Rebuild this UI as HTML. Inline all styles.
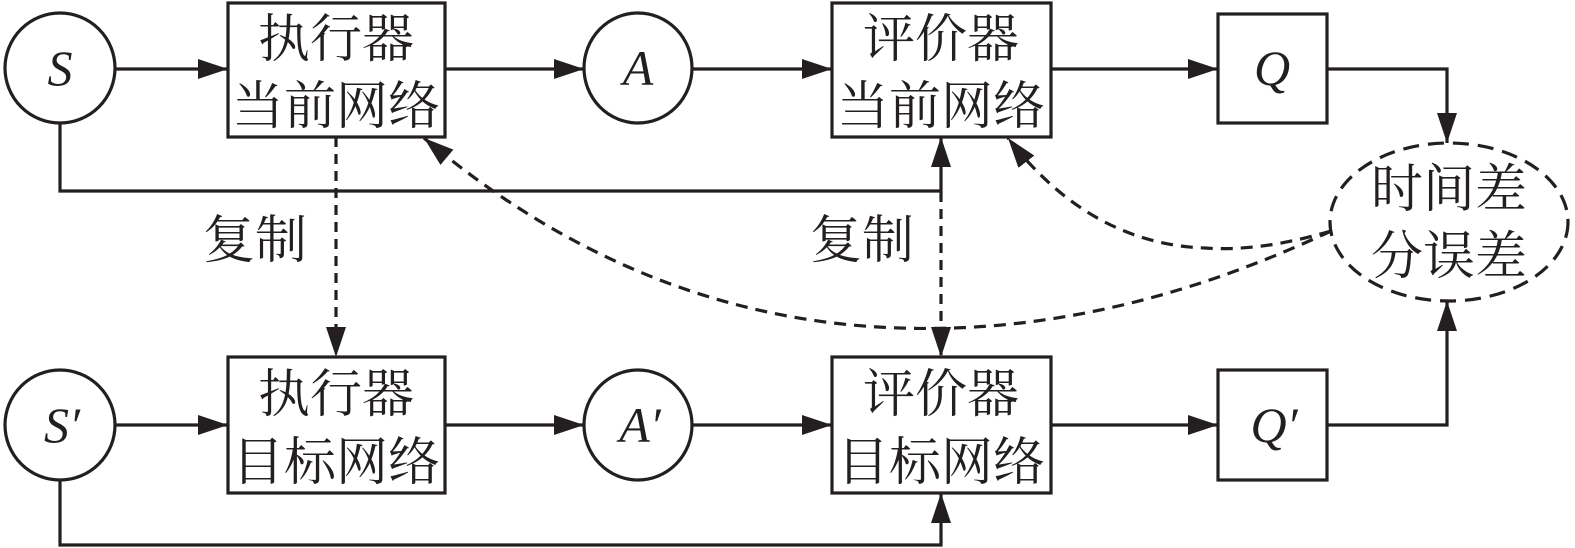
<!DOCTYPE html>
<html><head><meta charset="utf-8"><style>
html,body{margin:0;padding:0;background:#fff;}
svg{display:block}
.cn{font-family:"Liberation Serif","Noto Serif CJK SC",serif;font-size:52px;fill:#231f20;text-anchor:middle}
.it{font-family:"Liberation Serif",serif;font-style:italic;font-size:50px;fill:#231f20;text-anchor:middle}
</style></head><body>
<svg width="1575" height="548" viewBox="0 0 1575 548" xmlns="http://www.w3.org/2000/svg">
<defs>
<marker id="ar" markerWidth="30" markerHeight="20" refX="30" refY="10" orient="auto" markerUnits="userSpaceOnUse">
<path d="M0,0 L30,10 L0,20 Z" fill="#231f20"/>
</marker>
</defs>
<g stroke="#231f20" stroke-width="3.2" fill="none">
<!-- nodes top -->
<ellipse cx="60" cy="68" rx="55" ry="55"/>
<rect x="228" y="3" width="217" height="134"/>
<ellipse cx="638" cy="68" rx="54" ry="55"/>
<rect x="832" y="3" width="219" height="134"/>
<rect x="1218" y="14" width="109" height="109"/>
<ellipse cx="1449" cy="222" rx="119" ry="79" stroke-dasharray="16,9"/>
<!-- nodes bottom -->
<ellipse cx="60" cy="425" rx="55" ry="55"/>
<rect x="228" y="357" width="217" height="136"/>
<ellipse cx="638" cy="425" rx="54" ry="55"/>
<rect x="832" y="357" width="219" height="136"/>
<rect x="1218" y="370" width="109" height="110"/>
<!-- horizontal arrows top -->
<line x1="115" y1="69" x2="228" y2="69" marker-end="url(#ar)"/>
<line x1="445" y1="69" x2="584" y2="69" marker-end="url(#ar)"/>
<line x1="692" y1="69" x2="832" y2="69" marker-end="url(#ar)"/>
<line x1="1051" y1="69" x2="1218" y2="69" marker-end="url(#ar)"/>
<polyline points="1327,69 1447,69 1447,143" marker-end="url(#ar)"/>
<!-- bottom -->
<line x1="115" y1="425" x2="228" y2="425" marker-end="url(#ar)"/>
<line x1="445" y1="425" x2="584" y2="425" marker-end="url(#ar)"/>
<line x1="692" y1="425" x2="832" y2="425" marker-end="url(#ar)"/>
<line x1="1051" y1="425" x2="1218" y2="425" marker-end="url(#ar)"/>
<polyline points="1327,425 1447,425 1447,301" marker-end="url(#ar)"/>
<!-- state feed lines -->
<polyline points="60,123 60,191 941,191 941,137" marker-end="url(#ar)"/>
<polyline points="60,480 60,545 941,545 941,493" marker-end="url(#ar)"/>
<!-- copy dashed -->
<line x1="336" y1="137" x2="336" y2="357" stroke-dasharray="10,7" marker-end="url(#ar)"/>
<line x1="941" y1="192" x2="941" y2="357" stroke-dasharray="10,7" marker-end="url(#ar)"/>
<!-- TD error curves -->
<path d="M1331,231 Q1260,252 1205,248 Q1090,244 1008,138" stroke-dasharray="12,8" marker-end="url(#ar)"/>
<path d="M1331,231 Q1110,335 900,328 Q640,320 424,138" stroke-dasharray="12,8" marker-end="url(#ar)"/>
</g>
<!-- text -->
<text class="it" x="60" y="85">S</text>
<text class="it" x="638" y="85">A</text>
<text class="it" x="1272" y="85">Q</text>
<text class="it" x="62" y="442">S′</text>
<text class="it" x="640" y="442">A′</text>
<text class="it" x="1274" y="442">Q′</text>
<text class="cn" x="336" y="57">执行器</text>
<text class="cn" x="336" y="124">当前网络</text>
<text class="cn" x="941" y="57">评价器</text>
<text class="cn" x="941" y="124">当前网络</text>
<text class="cn" x="336" y="412">执行器</text>
<text class="cn" x="336" y="480">目标网络</text>
<text class="cn" x="941" y="412">评价器</text>
<text class="cn" x="941" y="480">目标网络</text>
<text class="cn" x="255" y="258">复制</text>
<text class="cn" x="862" y="258">复制</text>
<text class="cn" x="1449" y="207">时间差</text>
<text class="cn" x="1449" y="274">分误差</text>
</svg>
</body></html>
